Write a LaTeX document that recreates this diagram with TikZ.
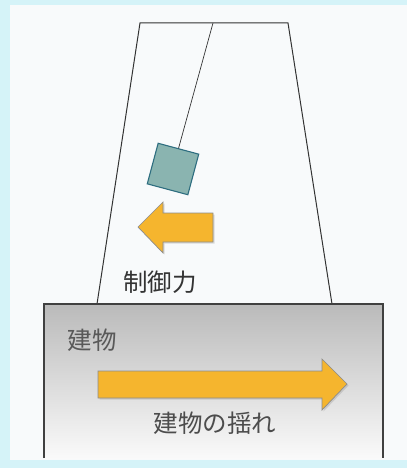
\documentclass[tikz,border=0pt]{standalone}
\usepackage{fontspec}
\newfontfamily\jpfont{Noto Sans CJK JP}
\usetikzlibrary{shadows}
\definecolor{panel}{HTML}{F8FAFB}
\definecolor{edgebg}{HTML}{D5F3F8}
\definecolor{weight}{HTML}{8AB4B0}
\definecolor{weightline}{HTML}{2E6E80}
\definecolor{force}{HTML}{F5B52E}
\tikzstyle{frame}=[draw=black!80, line width=1pt]
\tikzstyle{house}=[draw=black!75, line width=1.1pt]
\tikzstyle{mass}=[rectangle, draw=weightline, fill=weight, line width=1.1pt, minimum size=42pt, inner sep=0pt, rotate=-15]
\tikzstyle{rope}=[-, draw=black!80, line width=0.7pt]
\tikzstyle{blockarrow}=[fill=force, draw=black!45, line width=0.7pt, drop shadow={opacity=0.25, shadow xshift=1.5pt, shadow yshift=-1.5pt}]
\tikzstyle{lbl}=[inner sep=0pt, font=\jpfont\fontsize{24.5}{24.5}\selectfont]

\begin{document}
\begin{tikzpicture}[x=1pt, y=-1pt]
	%The background
	\useasboundingbox (0,0) rectangle (407,468);
	\fill[edgebg] (0,0) rectangle (407,468);
	\fill[panel] (10,5) rectangle (407,460);

	%The tower
	\draw[frame] (97,304) -- (140,23) -- (288,23) -- (332,304);

	%The pendulum
	\coordinate (pivot) at (213,23);
	\draw (173,169) node[mass] (box) {};
	\draw[rope] (pivot) -- (box.north);

	%The control force
	\draw[blockarrow] (138,227) -- (163,202) -- (163,213) -- (213,213)
		-- (213,242) -- (163,242) -- (163,253) -- cycle;
	\draw (160,282) node[lbl, text=black!80] (ctrl) {制御力};

	%The building
	\shade[top color=black!27, bottom color=black!2] (44,304) rectangle (383,458);
	\draw[house] (44,458) -- (44,304) -- (383,304) -- (383,458);
	\draw (92,340) node[lbl, text=black!65] (bldg) {建物};

	%The sway of the building
	\draw[blockarrow] (98,371) -- (322,371) -- (322,359) -- (347,384)
		-- (322,410) -- (322,398) -- (98,398) -- cycle;
	\draw (215,423) node[lbl, text=black!70] (sway) {建物の揺れ};
\end{tikzpicture}
\end{document}
